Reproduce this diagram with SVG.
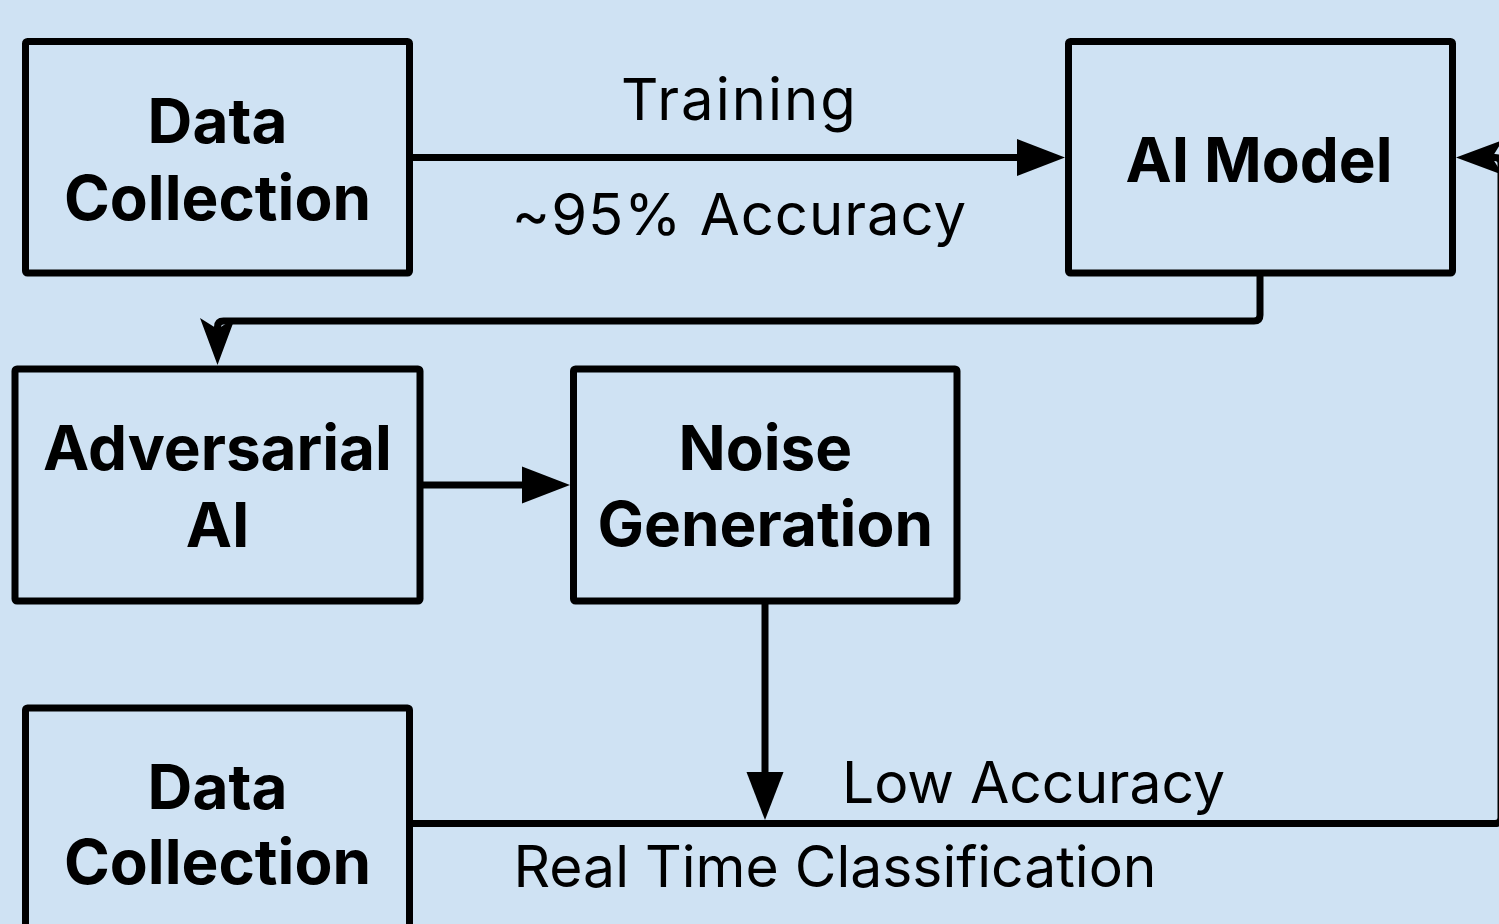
<svg xmlns="http://www.w3.org/2000/svg" width="1499" height="924" viewBox="0 0 1499 924">
<style>
.bg{fill:#cfe2f3}
.box{fill:#cfe2f3;stroke:#000;stroke-width:7;stroke-linejoin:round}
.t{font-family:Inter,"Noto Sans","DejaVu Sans",sans-serif;font-weight:700;font-size:62px;fill:#000;text-anchor:middle}
.l{font-family:Inter,"Noto Sans","DejaVu Sans",sans-serif;font-weight:400;font-size:57px;fill:#000;text-anchor:middle}
.e{fill:none;stroke:#000;stroke-width:7;stroke-linejoin:round}
</style>
<defs>
<marker id="block" markerUnits="userSpaceOnUse" markerWidth="60" markerHeight="50" viewBox="0 -25 60 50" refX="2" refY="0" orient="auto" overflow="visible">
<path d="M0,-18.5 L48,0 L0,18.5 Z" fill="#000"/>
</marker>
<marker id="classic" markerUnits="userSpaceOnUse" markerWidth="60" markerHeight="50" viewBox="0 -25 60 50" refX="11" refY="0" orient="auto" overflow="visible">
<path d="M0,-17.5 L47,0 L0,17.5 L11,0 Z" fill="#000"/>
</marker>
</defs>
<rect class="bg" x="0" y="0" width="1499" height="924"/>
<g id="connectors">
<path class="e" d="M409.5,157.5 H1019" marker-end="url(#block)"/>
<path class="e" d="M1260,273 V315 Q1260,321 1254,321 H223.5 Q217.5,321 217.5,327 V329" marker-end="url(#classic)"/>
<path class="e" d="M420,485 H524" marker-end="url(#block)"/>
<path class="e" d="M765,601 V774" marker-end="url(#block)"/>
<path class="e" d="M409.5,823.5 H1495 Q1501,823.5 1501,817.5 V163.5 Q1501,157.5 1495,157.5 H1492" marker-end="url(#classic)"/>
</g>
<g id="label-training"><text class="l" x="739.5" y="120" style="font-size:58px;letter-spacing:2px">Training</text></g>
<g id="label-accuracy"><text class="l" x="739.5" y="235" style="font-size:58px;letter-spacing:1px">~95% Accuracy</text></g>
<g id="label-low"><text class="l" x="1033.5" y="803">Low Accuracy</text></g>
<g id="label-rtc"><text class="l" x="835" y="887">Real Time Classification</text></g>
<g id="node-data-collection-1">
<rect class="box" x="25.5" y="41.5" width="384" height="231.5" rx="2"/>
<text class="t" x="217.5" y="143.3">Data</text>
<text class="t" x="217.5" y="219.5">Collection</text>
</g>
<g id="node-ai-model">
<rect class="box" x="1068.5" y="41.5" width="384" height="231.5" rx="2"/>
<text class="t" x="1259" y="181.7">AI Model</text>
</g>
<g id="node-adversarial-ai">
<rect class="box" x="15" y="369" width="405" height="232" rx="2"/>
<text class="t" x="217.5" y="470">Adversarial</text>
<text class="t" x="217.5" y="546.5">AI</text>
</g>
<g id="node-noise-generation">
<rect class="box" x="573.5" y="369" width="383.5" height="232" rx="2"/>
<text class="t" x="765.25" y="470">Noise</text>
<text class="t" x="765.25" y="546">Generation</text>
</g>
<g id="node-data-collection-2">
<rect class="box" x="25.5" y="708" width="384" height="231.5" rx="2"/>
<text class="t" x="217.5" y="809">Data</text>
<text class="t" x="217.5" y="884.3">Collection</text>
</g>
</svg>
